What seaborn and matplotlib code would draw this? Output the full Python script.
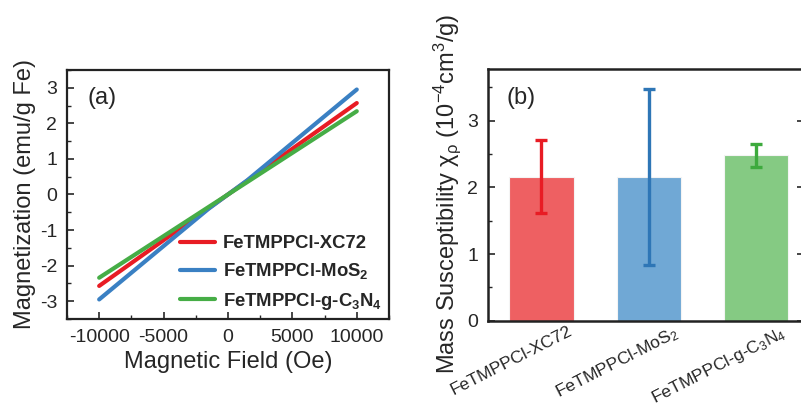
import numpy as np
import pandas as pd
import matplotlib
matplotlib.use("Agg")
import matplotlib.pyplot as plt
import matplotlib.transforms as mtrans
from matplotlib.ticker import MultipleLocator
import seaborn as sns

# ---------------- data ----------------
field = [-10000, -5000, -1500, 0, 1500, 5000, 10000]
m_xc72 = [-2.57, -1.285, -0.385, 0.0, 0.385, 1.285, 2.57]
m_mos2 = [-2.95, -1.45, -0.40, 0.0, 0.40, 1.45, 2.95]
m_gc3n4 = [-2.34, -1.17, -0.35, 0.0, 0.35, 1.17, 2.34]
series_names = ["FeTMPPCl-XC72", "FeTMPPCl-MoS2", "FeTMPPCl-g-C3N4"]
legend_labels = [r"FeTMPPCl-XC72", r"FeTMPPCl-MoS$_\mathbf{2}$",
                 r"FeTMPPCl-g-C$_\mathbf{3}$N$_\mathbf{4}$"]

bar_categories = ["FeTMPPCl-XC72", "FeTMPPCl-MoS2", "FeTMPPCl-g-C3N4"]
bar_tick_labels = [r"FeTMPPCl-XC72", r"FeTMPPCl-MoS$_2$", r"FeTMPPCl-g-C$_3$N$_4$"]
bar_values = [2.16, 2.15, 2.48]
bar_errors = [0.55, 1.32, 0.17]

line_colors = ["#E81C24", "#3A80C3", "#46AD46"]
bar_colors = ["#EE6062", "#70A8D5", "#85CA83"]
err_colors = ["#E81C24", "#2E76B6", "#3DAA3D"]

# ---------------- style ----------------
sns.set_style("ticks")
plt.rcParams["font.family"] = ["Liberation Sans", "DejaVu Sans"]
plt.rcParams["mathtext.fontset"] = "custom"
plt.rcParams["mathtext.rm"] = "Liberation Sans"
plt.rcParams["mathtext.it"] = "Liberation Sans:italic"
plt.rcParams["mathtext.bf"] = "Liberation Sans:bold"
plt.rcParams["axes.unicode_minus"] = False

fig = plt.figure(figsize=(8.01, 4.11), dpi=100)
ax1 = fig.add_axes([0.0836, 0.2238, 0.402, 0.606])
ax2 = fig.add_axes([0.609, 0.2197, 0.395, 0.6117])

# ---------------- panel (a) ----------------
df = pd.DataFrame({
    "H": field * 3,
    "M": m_xc72 + m_mos2 + m_gc3n4,
    "sample": [series_names[0]] * len(field) + [series_names[1]] * len(field)
              + [series_names[2]] * len(field),
})
sns.lineplot(data=df, x="H", y="M", hue="sample", palette=dict(zip(series_names, line_colors)),
             linewidth=3, sort=False, ax=ax1, legend=False)
ax1.set_xlim(-12500, 12500)
ax1.set_ylim(-3.5, 3.5)
ax1.set_xticks([-10000, -5000, 0, 5000, 10000])
ax1.set_yticks([-3, -2, -1, 0, 1, 2, 3])
ax1.xaxis.set_minor_locator(MultipleLocator(2500))
ax1.yaxis.set_minor_locator(MultipleLocator(0.5))
ax1.tick_params(which="major", direction="in", length=5, width=1.2, labelsize=14, pad=7)
ax1.tick_params(which="minor", direction="in", length=3, width=1.0)
ax1.set_xlabel("Magnetic Field (Oe)", fontsize=17, labelpad=4)
ax1.set_ylabel("Magnetization (emu/g Fe)", fontsize=17, labelpad=3)
for s in ax1.spines.values():
    s.set_linewidth(1.6)
    s.set_color("#222222")
ax1.text(0.065, 0.93, "(a)", transform=ax1.transAxes, fontsize=17, va="top", ha="left")
handles = ax1.get_lines()[:3]
ax1.legend(handles, legend_labels, loc="lower right", frameon=False,
           prop={"weight": "bold", "size": 13.3}, handlelength=1.9, handletextpad=0.4,
           labelspacing=0.5, borderaxespad=0.0, bbox_to_anchor=(1.0, 0.0))

# ---------------- panel (b) ----------------
sns.barplot(x=bar_categories, y=bar_values, hue=bar_categories, palette=bar_colors,
            saturation=1, width=0.6, errorbar=None, legend=False, ax=ax2,
            edgecolor="#f4f4f4", linewidth=0.8)
for i, (v, e) in enumerate(zip(bar_values, bar_errors)):
    ax2.errorbar(i, v, yerr=e, color=err_colors[i], elinewidth=2.4, capsize=4.5, capthick=2.4)
ax2.set_xlim(-0.5, 2.45)
ax2.set_ylim(0, 3.77)
ax2.set_yticks([0, 1, 2, 3])
ax2.yaxis.set_minor_locator(MultipleLocator(0.5))
ax2.tick_params(axis="y", which="major", direction="in", length=5, width=1.2, labelsize=14,
                pad=7, right=True)
ax2.tick_params(axis="y", which="minor", direction="in", length=3, width=1.0)
ax2.tick_params(axis="x", length=0, labelsize=12.6, pad=2)
ax2.set_xticks([0, 1, 2])
ax2.set_xticklabels(bar_tick_labels, rotation=27, ha="right", va="top")
offset = mtrans.ScaledTranslation(33 / 100, 0, fig.dpi_scale_trans)
for lab in ax2.get_xticklabels():
    lab.set_transform(lab.get_transform() + offset)
ax2.set_xlabel("")
ax2.set_ylabel("Mass Susceptibility χ$_\\mathrm{ρ}$ (10$^{-4}$cm$^3$/g)", fontsize=17)
ax2.yaxis.set_label_coords(-0.077, 0.506)
for s in ax2.spines.values():
    s.set_linewidth(1.8)
    s.set_color("#222222")
ax2.text(0.06, 0.93, "(b)", transform=ax2.transAxes, fontsize=17, va="top", ha="left")

fig.savefig("out.png", dpi=100)
